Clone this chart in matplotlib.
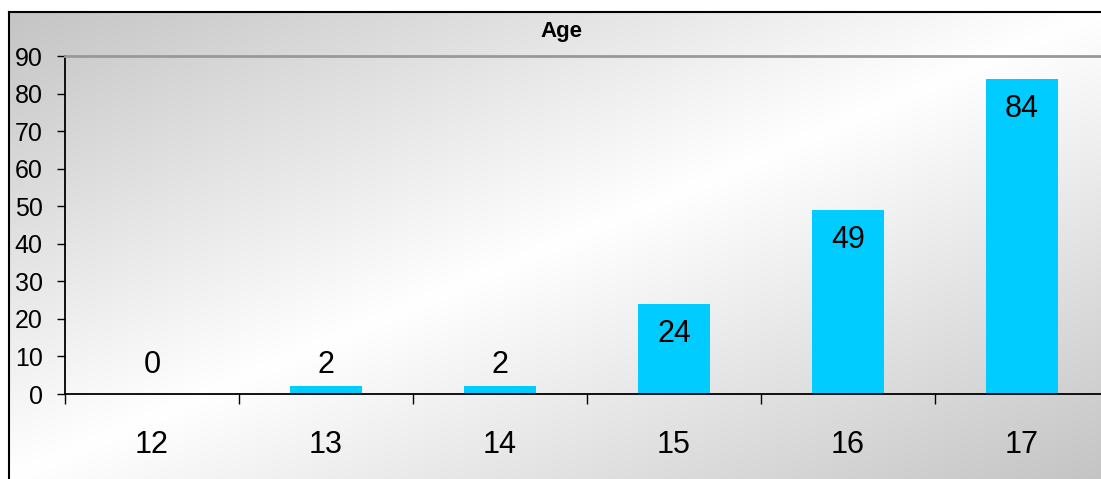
import numpy as np
import matplotlib
matplotlib.use("Agg")
import matplotlib.pyplot as plt
from matplotlib.lines import Line2D

# data
ages = ['12', '13', '14', '15', '16', '17']
counts = [0, 2, 2, 24, 49, 84]
yticks = list(range(0, 91, 10))

plt.rcParams['font.family'] = ['Liberation Sans', 'DejaVu Sans']

W, H = 1101, 479
fig = plt.figure(figsize=(W / 100, H / 100), dpi=100)

# diagonal grey-white-grey gradient behind the chart box
bg = fig.add_axes([9 / W, 0, 1 - 9 / W, 1 - 12 / H], zorder=0)
u = np.linspace(0, 1, 500)
v = np.linspace(0, 1, 250)
uu, vv = np.meshgrid(u, v)
w = 1 - np.abs(uu + vv - 1)
g = 0.77
shade = g + (1 - g) * w
bg.imshow(np.dstack([shade] * 3), aspect='auto', extent=[0, 1, 1, 0])
bg.axis('off')

# chart box border (top and left visible)
fig.add_artist(Line2D([9 / W, 1], [1 - 12 / H] * 2, color='black', lw=1.5,
                      transform=fig.transFigure))
fig.add_artist(Line2D([9 / W] * 2, [0, 1 - 12 / H], color='black', lw=1.5,
                      transform=fig.transFigure))

ax = fig.add_axes([65 / W, 85 / H, (1109 - 65) / W, 338 / H], zorder=1)
ax.patch.set_alpha(0)

x = np.arange(len(ages))
ax.bar(x, counts, width=0.41, color='#00CCFF', zorder=2)

ax.set_xlim(-0.5, len(ages) - 0.5)
ax.set_ylim(0, 90)
ax.set_yticks(yticks)
ax.set_xticks(x)
ax.set_xticklabels(ages, fontsize=22)
ax.set_xticks(np.arange(-0.5, len(ages), 1), minor=True)
ax.tick_params(axis='x', which='major', length=0, pad=26)
ax.tick_params(axis='x', which='minor', length=7, width=1, direction='out')
ax.tick_params(axis='y', length=6, width=1, labelsize=18, pad=10)

for side in ['left', 'bottom']:
    ax.spines[side].set_color('black')
    ax.spines[side].set_linewidth(1.3)
ax.spines['top'].set_color('#999999')
ax.spines['top'].set_linewidth(2)
ax.spines['right'].set_visible(False)

# value labels: inside bar top, or just above the axis for short bars
for xi, c in zip(x, counts):
    yc = max(c - 8, 7.7)
    ax.text(xi, yc, str(c), ha='center', va='center', fontsize=22, zorder=3)

fig.text(561 / W, 1 - 32 / H, 'Age', ha='center', va='center',
         fontsize=16, fontweight='bold')

fig.savefig('out.png', dpi=100)
